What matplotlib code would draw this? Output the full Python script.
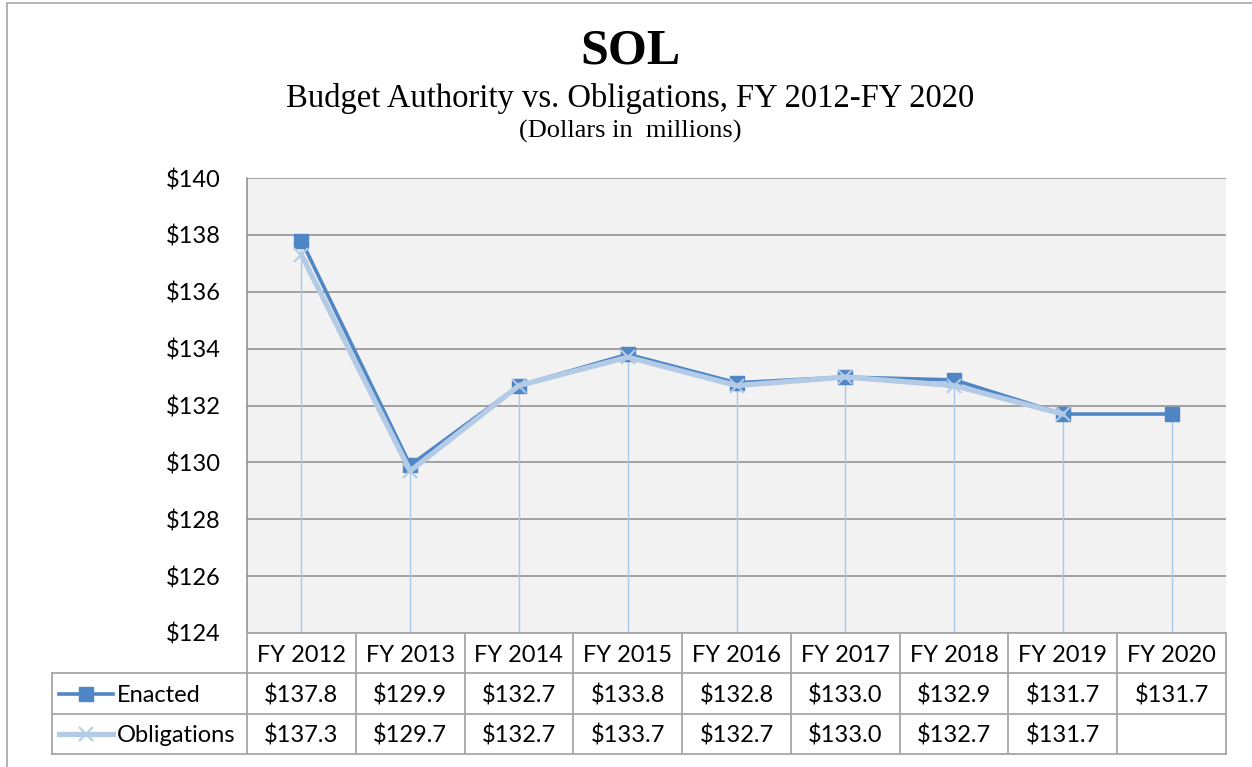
import matplotlib.pyplot as plt
from matplotlib.patches import Rectangle
import numpy as np

years = ['FY 2012', 'FY 2013', 'FY 2014', 'FY 2015', 'FY 2016',
         'FY 2017', 'FY 2018', 'FY 2019', 'FY 2020']
enacted = [137.8, 129.9, 132.7, 133.8, 132.8, 133.0, 132.9, 131.7, 131.7]
obligations = [137.3, 129.7, 132.7, 133.7, 132.7, 133.0, 132.7, 131.7, None]
yticks = [124, 126, 128, 130, 132, 134, 136, 138, 140]

W, H = 1252, 767
c_enacted = '#4F86C6'
c_oblig = '#B4CBE6'
c_drop = '#A9C8E8'
c_grid = '#8C8C8C'
c_table = '#A6A6A6'
sans = 'Lato'
serif = 'Liberation Serif'
fs = 17

fig = plt.figure(figsize=(W / 100, H / 100), dpi=100)

# outer chart border
fig.patches.append(Rectangle((7 / W, -0.01), 1.1, (767 - 3) / H + 0.01,
                             transform=fig.transFigure, fill=False,
                             edgecolor='#A6A6A6', linewidth=1.2))

fig.text(630 / W, 1 - 51 / H, 'SOL', ha='center', va='center',
         fontsize=36, fontweight='bold', family=serif)
fig.text(630 / W, 1 - 98 / H, 'Budget Authority vs. Obligations, FY 2012-FY 2020',
         ha='center', va='center', fontsize=23.5, family=serif)
fig.text(630 / W, 1 - 131 / H, '(Dollars in  millions)', ha='center',
         va='center', fontsize=19, family=serif)

x0, x1, ytop, ybot = 247, 1226, 178, 633
ax = fig.add_axes([x0 / W, 1 - ybot / H, (x1 - x0) / W, (ybot - ytop) / H])
ax.set_facecolor('#F2F2F2')
x = np.arange(len(years))
ax.set_xlim(-0.5, len(years) - 0.5)
ax.set_ylim(124, 140)
ax.set_yticks(yticks)
ax.set_yticklabels(['$%d' % v for v in yticks], fontsize=fs, family=sans)
ax.tick_params(axis='y', length=0, pad=19)
ax.set_xticks([])
ax.grid(axis='y', color=c_grid, linewidth=1.1)
ax.set_axisbelow(True)
for s in ['top', 'right', 'bottom']:
    ax.spines[s].set_visible(False)
ax.spines['left'].set_color(c_grid)
ax.spines['left'].set_linewidth(1.1)

tops = [max(e, o) if o is not None else e for e, o in zip(enacted, obligations)]
ax.vlines(x, 124, tops, color=c_drop, linewidth=1.0, zorder=2)

ob = np.array([np.nan if v is None else v for v in obligations])
ax.plot(x, enacted, color=c_enacted, linewidth=2.6, marker='s',
        markersize=10, zorder=3)
ax.plot(x, ob, color=c_oblig, linewidth=3.8, marker='x', markersize=10,
        markeredgewidth=1.5, zorder=4)

# data table below the plot
lw = 195 / 108.8
tx = fig.add_axes([52 / W, 1 - 754 / H, (x1 - 52) / W, (754 - 633) / H])
tx.set_xlim(-0.5 - lw, len(years) - 0.5)
tx.set_ylim(0, 3)
tx.axis('off')
kw = dict(color=c_table, linewidth=1.3, clip_on=False)
for yy in [0, 1, 2]:
    tx.plot([-0.5 - lw, len(years) - 0.5], [yy, yy], **kw)
tx.plot([-0.5, len(years) - 0.5], [3, 3], **kw)
tx.plot([-0.5 - lw, -0.5 - lw], [0, 2], **kw)
for i in range(len(years) + 1):
    tx.plot([i - 0.5, i - 0.5], [0, 3], **kw)
for i, yr in enumerate(years):
    tx.text(i, 2.45, yr, ha='center', va='center', fontsize=fs, family=sans)
    tx.text(i, 1.45, '$%.1f' % enacted[i], ha='center', va='center',
            fontsize=fs, family=sans)
    if obligations[i] is not None:
        tx.text(i, 0.45, '$%.1f' % obligations[i], ha='center', va='center',
                fontsize=fs, family=sans)

kx0 = -0.5 - lw + 7 / 108.8
kx1 = kx0 + 54 / 108.8
tx.plot([kx0, kx1], [1.5, 1.5], color=c_enacted, linewidth=2.6, clip_on=False)
tx.plot([(kx0 + kx1) / 2], [1.5], marker='s', markersize=10,
        color=c_enacted, clip_on=False)
tx.plot([kx0, kx1], [0.5, 0.5], color=c_oblig, linewidth=3.8, clip_on=False)
tx.plot([(kx0 + kx1) / 2], [0.5], marker='x', markersize=10,
        markeredgewidth=1.5, color=c_oblig, clip_on=False)
tx.text(kx1 + 4 / 108.8, 1.45, 'Enacted', ha='left', va='center',
        fontsize=fs, family=sans)
tx.text(kx1 + 4 / 108.8, 0.45, 'Obligations', ha='left', va='center',
        fontsize=fs, family=sans)

fig.savefig('out.png', dpi=100)
